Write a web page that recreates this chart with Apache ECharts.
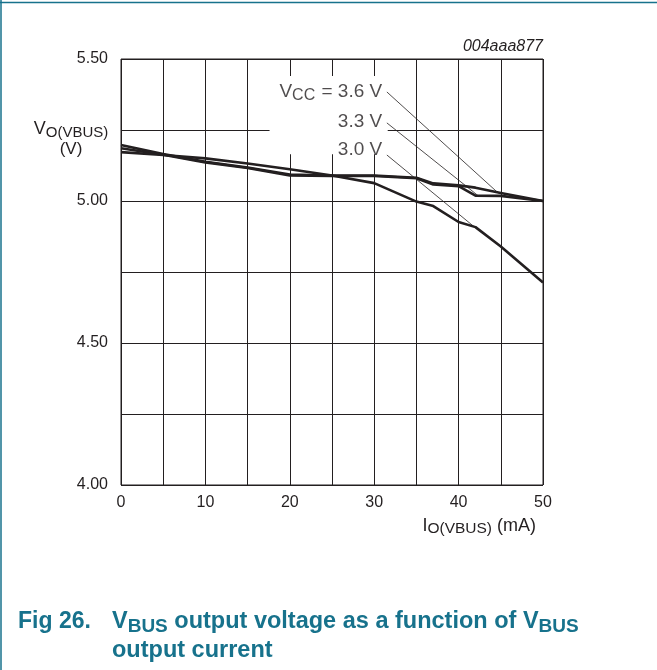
<!DOCTYPE html>
<html>
<head>
<meta charset="utf-8">
<script src="https://cdn.jsdelivr.net/npm/echarts@6/dist/echarts.min.js"></script>
<style>
  html, body { margin: 0; padding: 0; background: #fff; }
  #chart { width: 657px; height: 670px; }
</style>
</head>
<body>
<div id="chart"></div>
<script>
// output current, mA
var currentMA = [0, 5, 10, 15, 20, 25, 30, 35, 37, 40, 42, 45, 50]
// output voltage, V, per supply voltage
var vcc30 = [5.172, 5.162, 5.150, 5.132, 5.112, 5.090, 5.063, 4.998, 4.982, 4.926, 4.908, 4.840, 4.713]
var vcc33 = [5.186, 5.163, 5.136, 5.116, 5.090, 5.088, 5.088, 5.080, 5.058, 5.052, 5.019, 5.018, 5.000]
var vcc36 = [5.197, 5.165, 5.138, 5.118, 5.093, 5.090, 5.090, 5.082, 5.062, 5.055, 5.047, 5.028, 5.000]

var curveNames = ['3.6 V', '3.3 V', '3.0 V']
// leader lines: label end -> point on curve
var leaderFrom = [[31.5, 5.384], [31.5, 5.275], [31.5, 5.162]]
var leaderTo = [[44.7, 5.028], [42.3, 5.019], [41.9, 4.908]]
var labelAt = [[30.95, 5.385], [30.95, 5.28], [30.95, 5.18]]

var xTicks = [0, 10, 20, 30, 40, 50]
var yTicks = ['4.00', '4.50', '5.00', '5.50']

var font = "'Liberation Sans', Arial, Helvetica, sans-serif"
var ink = '#231f20'
var teal = '#17728c'

function pairs(xs, ys) {
  return xs.map(function (x, i) { return [x, ys[i]] })
}

function curve(name, ys) {
  return {
    name: name,
    type: 'line',
    z: 4,
    symbol: 'none',
    smooth: 0,
    lineStyle: { color: ink, width: 2.6 },
    data: pairs(currentMA, ys)
  }
}

var chart = echarts.init(document.getElementById('chart'))

var option = {
  animation: false,
  backgroundColor: '#fff',
  textStyle: { fontFamily: font },
  grid: {
    left: 121, right: 114, top: 59, bottom: 185,
    show: true, borderColor: ink, borderWidth: 1
  },
  xAxis: {
    type: 'value', min: 0, max: 50, interval: 5,
    axisLine: { show: false },
    axisTick: { show: false },
    splitLine: { show: true, lineStyle: { color: ink, width: 1 } },
    axisLabel: {
      color: ink, fontSize: 16, margin: 10, fontFamily: font,
      formatter: function (v) { return xTicks.indexOf(v) >= 0 ? String(v) : '' }
    }
  },
  yAxis: {
    type: 'value', min: 4, max: 5.5, interval: 0.25,
    axisLine: { show: false },
    axisTick: { show: false },
    splitLine: { show: true, lineStyle: { color: ink, width: 1 } },
    axisLabel: {
      color: ink, fontSize: 16, margin: 13, fontFamily: font,
      formatter: function (v) {
        var s = v.toFixed(2)
        return yTicks.indexOf(s) >= 0 ? s : ''
      }
    }
  },
  series: [
    {
      // white box behind the curve labels
      type: 'line', z: 2, data: [], silent: true,
      markArea: {
        silent: true,
        itemStyle: { color: '#fff', opacity: 1 },
        data: [[{ coord: [17.6, 5.44] }, { coord: [31.6, 5.165] }]]
      }
    },
    curve('3.6 V', vcc36),
    curve('3.3 V', vcc33),
    curve('3.0 V', vcc30),
    {
      type: 'line', z: 3, data: [], silent: true,
      markLine: {
        silent: true, symbol: 'none',
        label: { show: false },
        lineStyle: { color: ink, width: 0.8, type: 'solid' },
        data: leaderFrom.map(function (p, i) {
          return [{ coord: p }, { coord: leaderTo[i] }]
        })
      }
    },
    {
      type: 'scatter', z: 5, symbolSize: 0, silent: true,
      data: labelAt,
      label: {
        show: true, position: 'left', distance: 0,
        color: ink, fontSize: 19, fontFamily: font,
        formatter: function (p) {
          var t = curveNames[p.dataIndex]
          return p.dataIndex === 0 ? '{n|V}{s|CC}{n| = ' + t + '}' : '{n|' + t + '}'
        },
        rich: {
          n: { fontSize: 19, color: ink, fontFamily: font, lineHeight: 24, verticalAlign: 'middle' },
          s: { fontSize: 16, color: ink, fontFamily: font, lineHeight: 15, verticalAlign: 'bottom', padding: [0, 1, 0, 0] }
        }
      }
    }
  ],
  graphic: [
    { type: 'line', shape: { x1: 0, y1: 2.5, x2: 657, y2: 2.5 }, style: { stroke: teal, lineWidth: 1.5 } },
    { type: 'line', shape: { x1: 1, y1: 0, x2: 1, y2: 670 }, style: { stroke: teal, lineWidth: 1.5 } },
    {
      type: 'text', x: 543, y: 47,
      style: { text: '004aaa877', fill: ink, font: 'italic 16px ' + font, textAlign: 'right', textVerticalAlign: 'middle' }
    },
    {
      type: 'text', x: 71, y: 129,
      style: {
        text: '{n|V}{s|O(VBUS)}', textAlign: 'center', textVerticalAlign: 'middle',
        rich: {
          n: { fontSize: 18, fill: ink, fontFamily: font, lineHeight: 22, verticalAlign: 'middle' },
          s: { fontSize: 15, fill: ink, fontFamily: font, lineHeight: 14, verticalAlign: 'bottom' }
        }
      }
    },
    {
      type: 'text', x: 71, y: 149,
      style: { text: '(V)', fill: ink, font: '17px ' + font, textAlign: 'center', textVerticalAlign: 'middle' }
    },
    {
      type: 'text', x: 536, y: 526,
      style: {
        text: '{n|I}{s|O(VBUS)}{n| (mA)}', textAlign: 'right', textVerticalAlign: 'middle',
        rich: {
          n: { fontSize: 18, fill: ink, fontFamily: font, lineHeight: 22, verticalAlign: 'middle' },
          s: { fontSize: 15.5, fill: ink, fontFamily: font, lineHeight: 14, verticalAlign: 'bottom' }
        }
      }
    },
    {
      type: 'text', x: 18, y: 622,
      style: { text: 'Fig 26.', fill: teal, font: 'bold 23px ' + font, textVerticalAlign: 'middle' }
    },
    {
      type: 'text', x: 112, y: 622,
      style: {
        text: '{n|V}{s|BUS}{n| output voltage as a function of V}{s|BUS}',
        textVerticalAlign: 'middle',
        rich: {
          n: { fontSize: 23.5, fontWeight: 'bold', fill: teal, fontFamily: font, lineHeight: 28, verticalAlign: 'middle' },
          s: { fontSize: 19, fontWeight: 'bold', fill: teal, fontFamily: font, lineHeight: 19, verticalAlign: 'bottom' }
        }
      }
    },
    {
      type: 'text', x: 112, y: 651,
      style: { text: 'output current', fill: teal, font: 'bold 23.5px ' + font, textVerticalAlign: 'middle' }
    }
  ]
}

chart.setOption(option)
</script>
</body>
</html>
